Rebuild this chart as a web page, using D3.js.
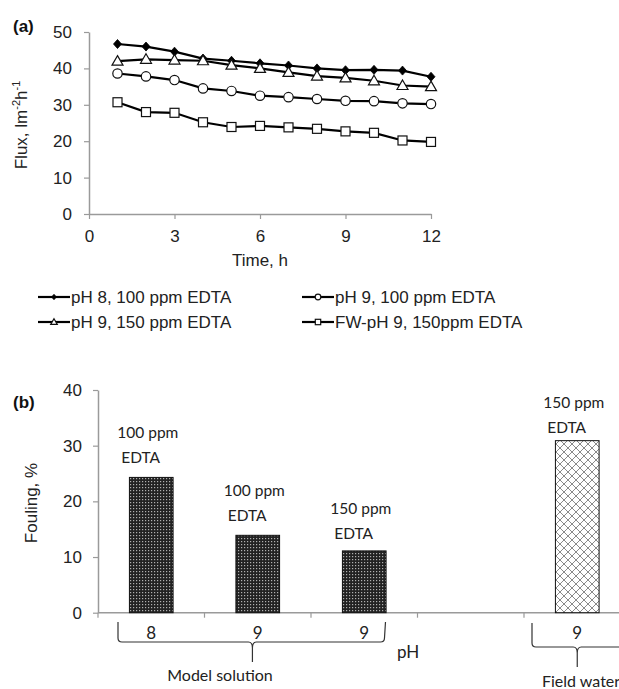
<!DOCTYPE html>
<html><head><meta charset="utf-8">
<script src="https://cdn.jsdelivr.net/npm/d3@7"></script>
<style>
body{margin:0;background:#fff;}
svg{display:block;}
</style></head>
<body>
<script>
// ---------- DATA (a) ----------
const hours = [1,2,3,4,5,6,7,8,9,10,11,12];
const seriesNames = ["pH 8, 100 ppm EDTA","pH 9, 100 ppm EDTA","pH 9, 150 ppm EDTA","FW-pH 9, 150ppm EDTA"];
const fluxPH8_100 = [46.7,46.0,44.6,42.7,42.1,41.4,40.8,40.0,39.5,39.6,39.4,37.7];
const fluxPH9_100 = [38.6,37.8,36.8,34.5,33.8,32.5,32.1,31.6,31.1,31.0,30.4,30.2];
const fluxPH9_150 = [42.0,42.5,42.3,42.1,40.9,40.0,38.9,37.9,37.4,36.6,35.3,35.0];
const fluxFW9_150 = [30.7,28.0,27.8,25.2,23.9,24.2,23.8,23.4,22.7,22.3,20.2,19.8];
const fluxTicks = [0,10,20,30,40,50];
const timeTicks = [0,3,6,9,12];

// ---------- DATA (b) ----------
const slots = ["s1","s2","s3","s4","s5"];
const phLabels = ["8","9","9","","9"];
const fouling = [24.3,13.9,11.1,null,30.9];
const edtaLabels = ["100 ppm","100 ppm","150 ppm",null,"150 ppm"];
const noteLevels = [27.95,17.5,14.3,null,33.3];
const foulingTicks = [0,10,20,30,40];
const groupNames = ["Model solution","Field water"];

const W = 619, H = 689;
const svg = d3.select("body").append("svg").attr("width",W).attr("height",H);
const AX = "#9a9a9a";
const ARIAL = "'Liberation Sans', Arial, sans-serif";
const CAL = "Lato, 'Open Sans', sans-serif";
const FS = 17;

// patterns
const defs = svg.append("defs");
const p1 = defs.append("pattern").attr("id","dots").attr("patternUnits","userSpaceOnUse").attr("width",3).attr("height",3);
p1.append("rect").attr("width",3).attr("height",3).attr("fill","#222");
p1.append("rect").attr("x",1).attr("y",1).attr("width",1.2).attr("height",1.2).attr("fill","#b0b0b0");
const p2 = defs.append("pattern").attr("id","cross").attr("patternUnits","userSpaceOnUse").attr("width",8).attr("height",8);
p2.append("rect").attr("width",8).attr("height",8).attr("fill","#fff");
p2.append("path").attr("d","M0,0L8,8M8,0L0,8").attr("stroke","#8a8a8a").attr("stroke-width",1);

// ================= (a) =================
const xa = d3.scaleLinear().domain([0,12]).range([89,431]);
const ya = d3.scaleLinear().domain([0,50]).range([214,32]);

const gxa = svg.append("g").attr("transform",`translate(0,${ya(0)})`)
  .call(d3.axisBottom(xa).tickValues(timeTicks).tickSize(5).tickPadding(11).tickSizeOuter(0));
const gya = svg.append("g").attr("transform",`translate(${xa(0)},0)`)
  .call(d3.axisLeft(ya).tickValues(fluxTicks).tickSize(5).tickPadding(12).tickSizeOuter(0));
[gxa,gya].forEach(g=>{
  g.select(".domain").attr("stroke",AX).attr("stroke-width",1.5);
  g.selectAll(".tick line").attr("stroke",AX).attr("stroke-width",1.2);
  g.selectAll(".tick text").attr("font-family",ARIAL).attr("font-size",FS).attr("fill","#222");
});

svg.append("text").attr("x",13).attr("y",32).attr("font-family",ARIAL).attr("font-weight","bold").attr("font-size",17).attr("fill","#111").text("(a)");
svg.append("text").attr("x",260).attr("y",266).attr("text-anchor","middle").attr("font-family",ARIAL).attr("font-size",FS).attr("fill","#222").text("Time, h");
const yt = svg.append("text").attr("transform","translate(27,125) rotate(-90)").attr("text-anchor","middle")
  .attr("font-family",ARIAL).attr("font-size",FS).attr("fill","#222");
yt.append("tspan").text("Flux, lm");
yt.append("tspan").attr("dy",-7).attr("font-size",11).text("-2");
yt.append("tspan").attr("dy",7).text("h");
yt.append("tspan").attr("dy",-7).attr("font-size",11).text("-1");

const seriesA = [
  {vals:fluxPH8_100, sym:"diamond"},
  {vals:fluxPH9_100, sym:"circle"},
  {vals:fluxPH9_150, sym:"triangle"},
  {vals:fluxFW9_150, sym:"square"}
];
const line = d3.line().x((d,i)=>xa(hours[i])).y(d=>ya(d));
function marker(g, sym, x, y, s){
  if(sym==="diamond"){
    g.append("path").attr("d",`M${x},${y-4.5*s}L${x+4*s},${y}L${x},${y+4.5*s}L${x-4*s},${y}Z`).attr("fill","#000").attr("stroke","#000").attr("stroke-width",0.8);
  } else if(sym==="circle"){
    g.append("circle").attr("cx",x).attr("cy",y).attr("r",4.7*s).attr("fill","#fff").attr("stroke","#111").attr("stroke-width",1.2);
  } else if(sym==="triangle"){
    g.append("path").attr("d",`M${x},${y-5.5*s}L${x+5.5*s},${y+4*s}L${x-5.5*s},${y+4*s}Z`).attr("fill","#fff").attr("stroke","#111").attr("stroke-width",1.2);
  } else {
    g.append("rect").attr("x",x-4.5*s).attr("y",y-4.5*s).attr("width",9*s).attr("height",9*s).attr("fill","#fff").attr("stroke","#111").attr("stroke-width",1.2);
  }
}
seriesA.forEach(s=>{
  const g = svg.append("g");
  g.append("path").attr("d",line(s.vals)).attr("fill","none").attr("stroke","#000").attr("stroke-width",2.2);
  s.vals.forEach((v,i)=>marker(g,s.sym,xa(hours[i]),ya(v),1));
});

// legend
const legPos = [[38,297],[302,297],[38,322],[302,322]];
[0,1,2,3].forEach((k,i)=>{
  const [lx,ly] = legPos[i];
  const g = svg.append("g");
  g.append("line").attr("x1",lx).attr("x2",lx+32).attr("y1",ly).attr("y2",ly).attr("stroke","#000").attr("stroke-width",2.2);
  marker(g,seriesA[k].sym,lx+16,ly,0.6);
  g.append("text").attr("x",lx+33).attr("y",ly+6).attr("font-family",ARIAL).attr("font-size",FS).attr("fill","#222").text(seriesNames[k]);
});

// ================= (b) =================
const xb = d3.scaleBand().domain(slots).range([98,630.5]).padding(0);
const yb = d3.scaleLinear().domain([0,40]).range([612.7,390]);
const bw = xb.bandwidth();

const gyb = svg.append("g").attr("transform",`translate(98,0)`)
  .call(d3.axisLeft(yb).tickValues(foulingTicks).tickSize(5).tickPadding(11).tickSizeOuter(0));
gyb.select(".domain").attr("stroke",AX).attr("stroke-width",1.5);
gyb.selectAll(".tick line").attr("stroke",AX).attr("stroke-width",1.2);
gyb.selectAll(".tick text").attr("font-family",ARIAL).attr("font-size",FS).attr("fill","#222");

const gxb = svg.append("g");
gxb.append("line").attr("x1",98).attr("x2",W).attr("y1",yb(0)).attr("y2",yb(0)).attr("stroke",AX).attr("stroke-width",1.5);
slots.forEach(s=>{
  const x0 = xb(s);
  gxb.append("line").attr("x1",x0).attr("x2",x0).attr("y1",yb(0)).attr("y2",yb(0)+5).attr("stroke",AX).attr("stroke-width",1.2);
});

slots.forEach((s,i)=>{
  if(fouling[i]==null) return;
  const cx = xb(s)+bw/2;
  const w = bw*0.41;
  svg.append("rect").attr("x",cx-w/2).attr("y",yb(fouling[i])).attr("width",w).attr("height",yb(0)-yb(fouling[i]))
    .attr("fill", i===4?"url(#cross)":"url(#dots)").attr("stroke","#111").attr("stroke-width",1);
  const ny = yb(noteLevels[i]);
  svg.append("text").attr("x",cx-34).attr("y",ny-19).attr("font-family",CAL).attr("font-size",15.5).attr("fill","#222").text(edtaLabels[i]);
  svg.append("text").attr("x",cx-30).attr("y",ny+5.5).attr("font-family",CAL).attr("font-size",15.5).attr("fill","#222").text("EDTA");
});
slots.forEach((s,i)=>{
  if(!phLabels[i]) return;
  svg.append("text").attr("x",xb(s)+bw/2).attr("y",639).attr("text-anchor","middle").attr("font-family",CAL).attr("font-size",17).attr("fill","#222").text(phLabels[i]);
});

svg.append("text").attr("x",13).attr("y",408).attr("font-family",ARIAL).attr("font-weight","bold").attr("font-size",17).attr("fill","#111").text("(b)");
svg.append("text").attr("transform","translate(37,503) rotate(-90)").attr("text-anchor","middle")
  .attr("font-family",ARIAL).attr("font-size",FS).attr("fill","#222").text("Fouling, %");

function bracket(x1, x2, xt, yTop, yH, yTip, rightOpen){
  let d = `M${x1},${yTop} L${x1},${yH-4} Q${x1},${yH} ${x1+4},${yH} L${xt-4},${yH} Q${xt},${yH} ${xt},${yTip-14} L${xt},${yTip}`;
  d += ` M${xt},${yTip-14} Q${xt},${yH} ${xt+4},${yH}`;
  if(rightOpen){ d += ` L${x2},${yH}`; }
  else { d += ` L${x2-4},${yH} Q${x2},${yH} ${x2},${yH-4} L${x2+1},${yTop}`; }
  svg.append("path").attr("d",d).attr("fill","none").attr("stroke","#333").attr("stroke-width",1.2);
}
const m0 = xb(slots[0]), m2 = xb(slots[2]), f0 = xb(slots[4]);
bracket(m0+20, m2+bw*0.69, m0+bw*1.45, 622, 642, 662, false);
bracket(f0+8, W+5, f0+bw*0.5, 623, 647, 667, true);
svg.append("text").attr("x",220).attr("y",681).attr("text-anchor","middle").attr("font-family",CAL).attr("font-size",16).attr("fill","#222").text(groupNames[0]);
svg.append("text").attr("x",542).attr("y",687).attr("font-family",CAL).attr("font-size",16).attr("fill","#222").text(groupNames[1]);
svg.append("text").attr("x",397).attr("y",658).attr("font-family",CAL).attr("font-size",17).attr("fill","#222").text("pH");
</script>
</body></html>
